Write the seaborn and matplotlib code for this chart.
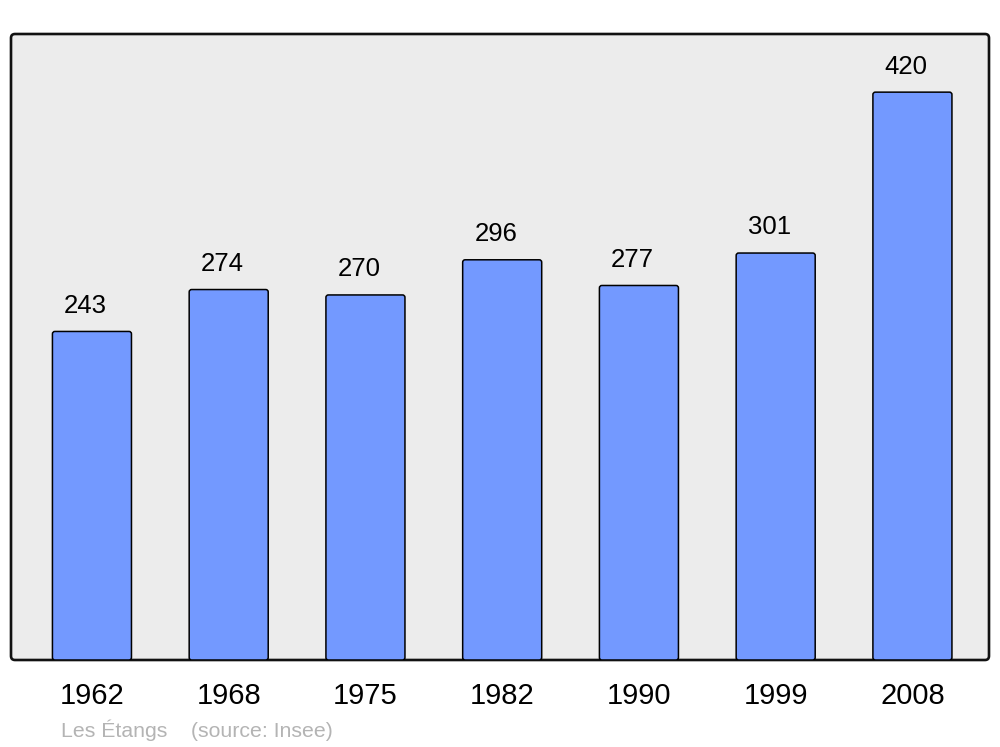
import matplotlib
matplotlib.use("Agg")
import matplotlib.pyplot as plt
from matplotlib.patches import FancyBboxPatch
import seaborn as sns
import pandas as pd

years = ["1962", "1968", "1975", "1982", "1990", "1999", "2008"]
population = [243, 274, 270, 296, 277, 301, 420]
footer = "Les Étangs    (source: Insee)"

sns.set_theme(style="white")
plt.rcParams["font.family"] = ["Liberation Sans", "DejaVu Sans"]

df = pd.DataFrame({"year": years, "pop": population})

fig = plt.figure(figsize=(10, 7.47), dpi=100)
ax = fig.add_axes([0.011, (747 - 660) / 747, 0.978, (660 - 34) / 747])

sns.barplot(data=df, x="year", y="pop", color="#7399ff", saturation=1,
            width=0.578, edgecolor="black", linewidth=1.1, ax=ax, zorder=3)

ax.set_xlim(-0.592, 6.56)
ax.set_ylim(0, 463)

# replace bars with rounded-corner versions
px_x = 978 / (6.56 + 0.592)
px_y = 626 / 463
r = 2.5
for p in list(ax.patches):
    x, y, w, h = p.get_x(), p.get_y(), p.get_width(), p.get_height()
    fb = FancyBboxPatch((x, y), w, h,
                        boxstyle=f"round,pad=0,rounding_size={r / px_x}",
                        mutation_aspect=(r / px_y) / (r / px_x),
                        facecolor=p.get_facecolor(), edgecolor="black",
                        linewidth=1.1, zorder=3)
    p.set_visible(False)
    ax.add_patch(fb)

for i, v in enumerate(population):
    ax.annotate(str(v), (i, v), xytext=(-4.5, 18.4), textcoords="offset points",
                ha="center", va="center", fontsize=18.5, color="black")

# frame
ax.patch.set_visible(False)
for s in ax.spines.values():
    s.set_visible(False)
rf = 4
frame = FancyBboxPatch((0, 0), 1, 1, transform=ax.transAxes,
                       boxstyle=f"round,pad=0,rounding_size={rf / 978}",
                       mutation_aspect=978 / 626,
                       facecolor="#ececec", edgecolor="#111111",
                       linewidth=1.9, zorder=0, clip_on=False)
ax.add_patch(frame)

ax.set_xlabel("")
ax.set_ylabel("")
ax.set_yticks([])
ax.tick_params(axis="x", length=0, pad=16, labelsize=21, labelcolor="black")

fig.text(0.061, 1 - 730 / 747, footer, ha="left", va="center",
         fontsize=15.3, color="#b4b4b4")

fig.savefig("out.png", dpi=100, facecolor="white")
